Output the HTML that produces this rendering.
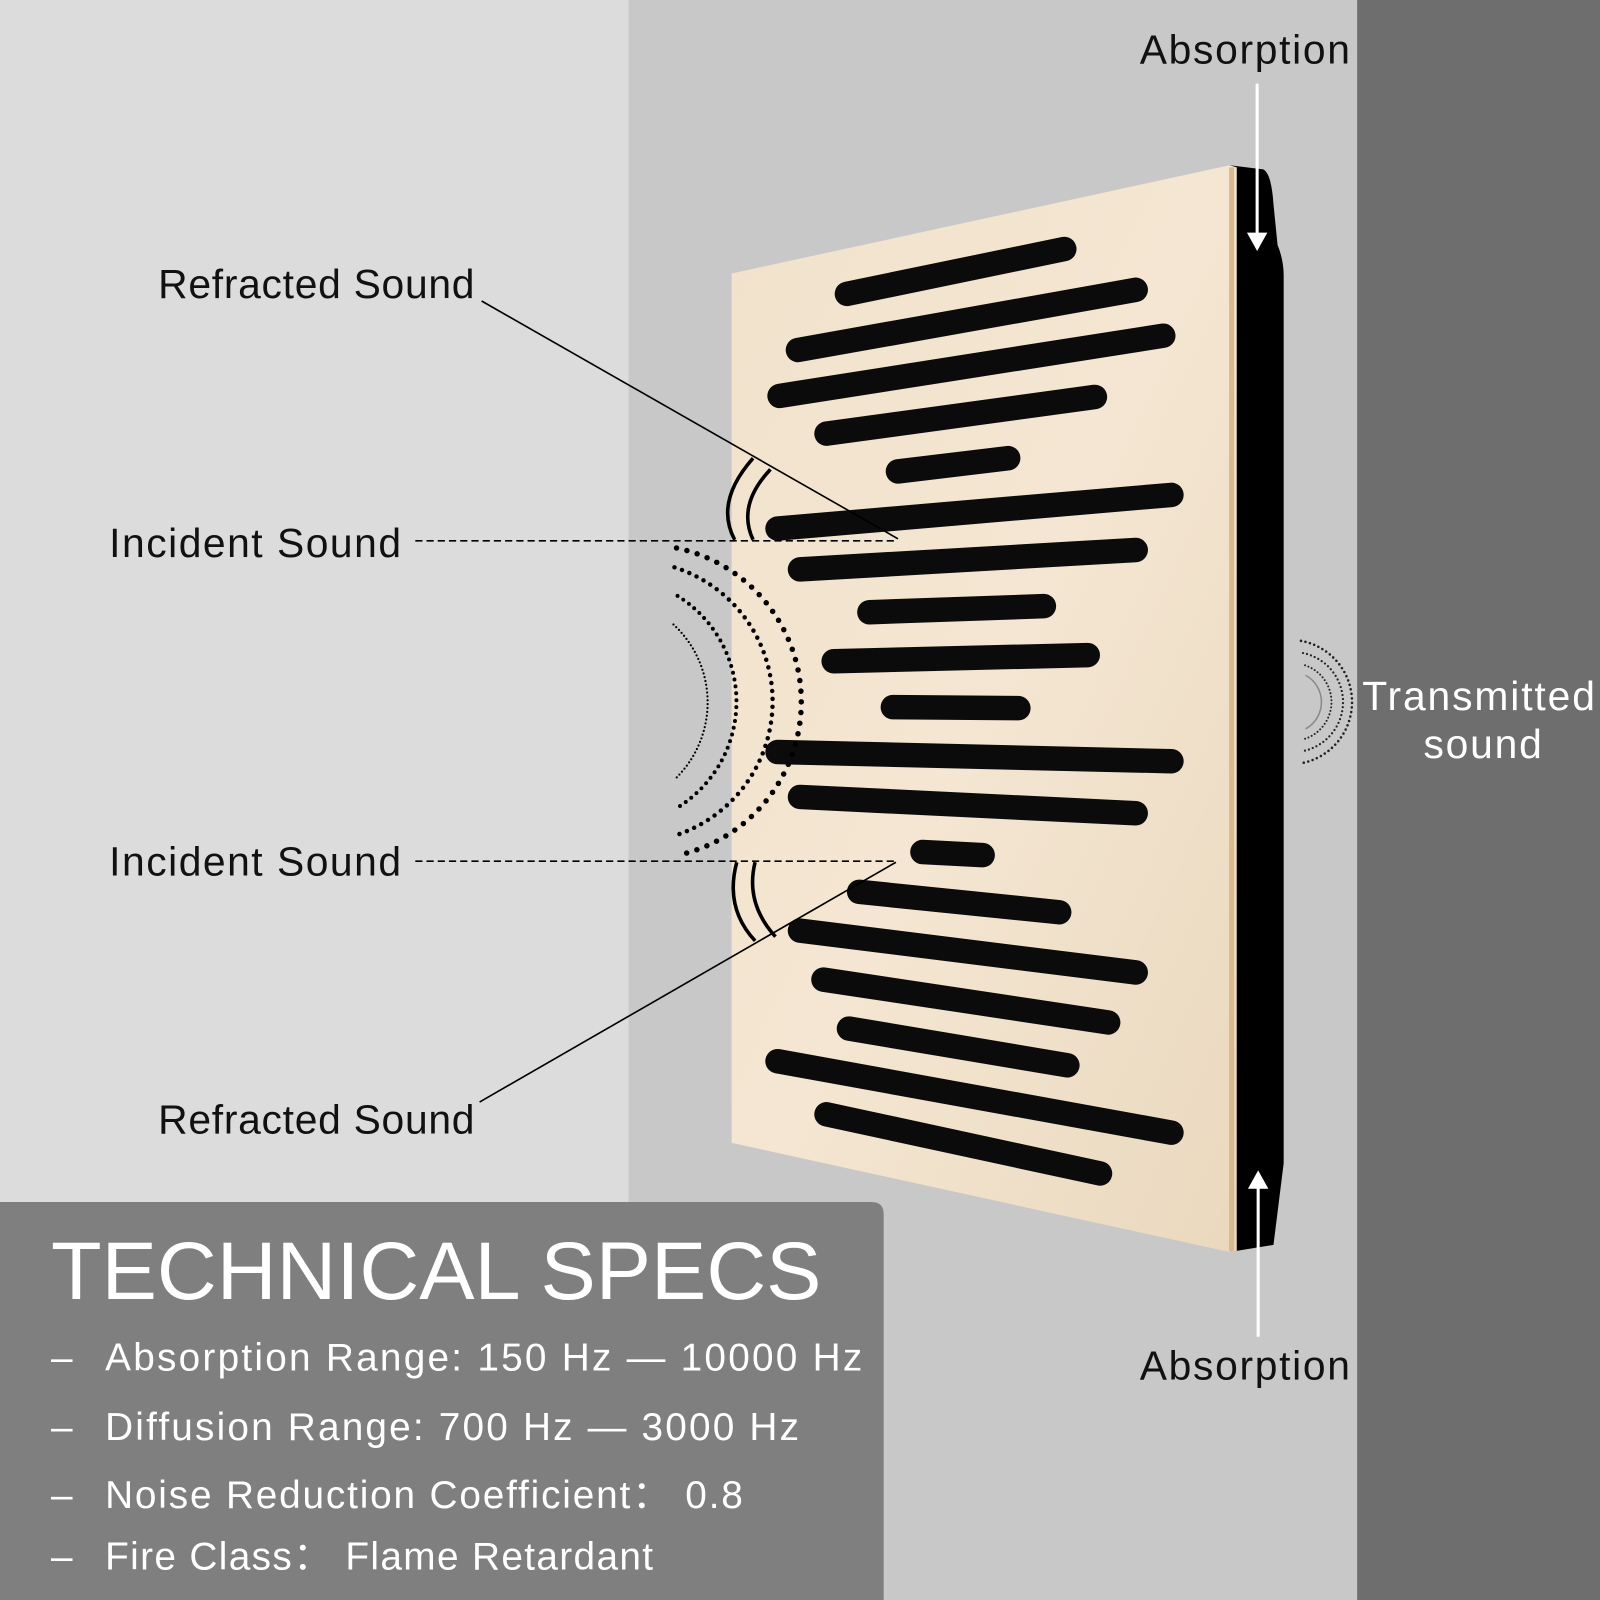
<!DOCTYPE html>
<html><head><meta charset="utf-8"><style>
html,body{margin:0;padding:0;width:1600px;height:1600px;overflow:hidden;background:#dcdcdc}
svg{display:block}
text{font-family:"Liberation Sans",sans-serif}
</style></head><body>
<svg width="1600" height="1600" viewBox="0 0 1568 1568" xmlns="http://www.w3.org/2000/svg">
<defs>
<linearGradient id="wood" x1="0" y1="0" x2="1" y2="1">
<stop offset="0" stop-color="#f1e2cc"/><stop offset="0.5" stop-color="#f4e6d2"/><stop offset="1" stop-color="#ead8be"/>
</linearGradient>
</defs>
<rect x="0" y="0" width="616" height="1568" fill="#dcdcdc"/>
<rect x="616" y="0" width="714" height="1568" fill="#c8c8c8"/>
<rect x="1330" y="0" width="238" height="1568" fill="#6e6e6e"/>

<!-- panel -->
<path d="M1205,162 L1238,166 Q1246,170 1248,200 L1252,240 Q1258,255 1258,270 L1258,1140 L1248,1220 L1205,1227 Z" fill="#000"/>
<polygon points="717,268 1205,162 1212,164 1212,1226 1205,1227 717,1120" fill="url(#wood)"/>
<line x1="1207" y1="164" x2="1207" y2="1226" stroke="#d9b98f" stroke-width="5"/>
<g stroke="#0b0b0b" stroke-width="24" stroke-linecap="round">
<line x1="830" y1="288" x2="1043" y2="244"/>
<line x1="782" y1="343" x2="1113" y2="284"/>
<line x1="764" y1="388" x2="1140" y2="329"/>
<line x1="810" y1="425" x2="1073" y2="389"/>
<line x1="880" y1="462" x2="988" y2="449"/>
<line x1="762" y1="518" x2="1148" y2="485"/>
<line x1="784" y1="558" x2="1113" y2="539"/>
<line x1="852" y1="600" x2="1023" y2="594"/>
<line x1="817" y1="648" x2="1066" y2="642"/>
<line x1="875" y1="693" x2="998" y2="694"/>
<line x1="762" y1="737" x2="1148" y2="746"/>
<line x1="784" y1="781" x2="1113" y2="797"/>
<line x1="904" y1="835" x2="963" y2="838"/>
<line x1="842" y1="874" x2="1038" y2="894"/>
<line x1="784" y1="912" x2="1113" y2="953"/>
<line x1="807" y1="960" x2="1086" y2="1002"/>
<line x1="832" y1="1008" x2="1046" y2="1044"/>
<line x1="762" y1="1040" x2="1148" y2="1110"/>
<line x1="810" y1="1092" x2="1078" y2="1150"/>
</g>

<!-- solid arcs -->
<g fill="none" stroke="#000" stroke-width="3.5">
<path d="M738,449 Q700,492 720,529"/>
<path d="M755,460 Q722,495 738,529"/>
<path d="M722,845 Q710,890 740,922"/>
<path d="M740,845 Q730,885 760,918"/>
</g>

<!-- dotted arcs -->
<g fill="none" stroke="#000" stroke-linecap="round">
<path d="M663,537 A154,154 0 0 1 669,837" stroke-width="5.4" stroke-dasharray="0 10.5"/>
<path d="M661,556 A138,138 0 0 1 664,818" stroke-width="4.4" stroke-dasharray="0 7.8"/>
<path d="M664,584 A122,122 0 0 1 663,792" stroke-width="3.9" stroke-dasharray="0 6.8"/>
<path d="M660,612 A104,104 0 0 1 663,762" stroke-width="2.2" stroke-dasharray="0 3.8"/>
</g>

<!-- leader lines -->
<g stroke="#000" stroke-width="1.6" fill="none">
<line x1="472" y1="295" x2="880" y2="528"/>
<line x1="470" y1="1080" x2="878" y2="845"/>
<line x1="407" y1="530" x2="880" y2="530" stroke-dasharray="7 4"/>
<line x1="407" y1="844" x2="880" y2="844" stroke-dasharray="7 4"/>
</g>

<!-- transmitted arcs -->
<g fill="none" stroke="#222" stroke-linecap="round">
<path d="M1275,628 A61,61 0 0 1 1275,748" stroke-width="2.5" stroke-dasharray="0 4.5"/>
<path d="M1277,640 A49,49 0 0 1 1277,736" stroke-width="2.2" stroke-dasharray="0 4"/>
<path d="M1279,652 A38,38 0 0 1 1279,724" stroke-width="2" stroke-dasharray="0 3.5"/>
<path d="M1280,662 A30,30 0 0 1 1280,714" stroke="#888" stroke-width="1.5"/>
</g>

<!-- absorption arrows -->
<g stroke="#fff" stroke-width="3" fill="#fff">
<line x1="1232" y1="82" x2="1232" y2="238"/>
<polygon points="1222,228 1232,246 1242,228" stroke="none"/>
<line x1="1233" y1="1310" x2="1233" y2="1156"/>
<polygon points="1223,1165 1233,1147 1243,1165" stroke="none"/>
</g>

<!-- labels -->
<g font-size="40" fill="#111">
<text x="155" y="292" textLength="310">Refracted Sound</text>
<text x="107" y="546" textLength="286">Incident Sound</text>
<text x="107" y="858" textLength="286">Incident Sound</text>
<text x="155" y="1111" textLength="310">Refracted Sound</text>
<text x="1117" y="62" textLength="206">Absorption</text>
<text x="1117" y="1352" textLength="206">Absorption</text>
</g>
<g font-size="40" fill="#fff">
<text x="1335" y="696" textLength="228">Transmitted</text>
<text x="1395" y="743" textLength="116">sound</text>
</g>

<!-- specs -->
<path d="M0,1178 H854 Q866,1178 866,1190 V1568 H0 Z" fill="#7f7f7f"/>
<g fill="#fff">
<text x="50" y="1273" font-size="80" textLength="755" lengthAdjust="spacingAndGlyphs">TECHNICAL SPECS</text>
<g font-size="38">
<text x="50" y="1343">–</text>
<text x="103" y="1343" textLength="742">Absorption Range: 150 Hz — 10000 Hz</text>
<text x="50" y="1411">–</text>
<text x="103" y="1411" textLength="680">Diffusion Range: 700 Hz — 3000 Hz</text>
<text x="50" y="1478">–</text>
<text x="103" y="1478" textLength="625">Noise Reduction Coefficient： 0.8</text>
<text x="50" y="1538">–</text>
<text x="103" y="1538" textLength="537">Fire Class： Flame Retardant</text>
</g>
</g>
</svg>
</body></html>
